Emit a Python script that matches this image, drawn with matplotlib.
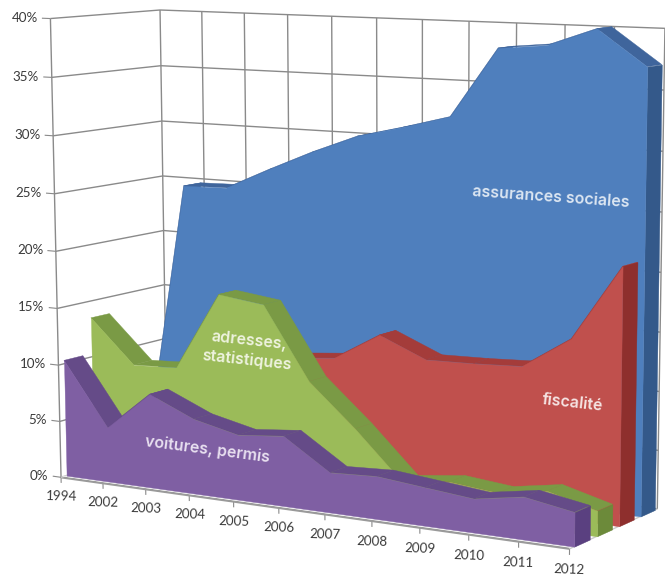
import math
import numpy as np
import matplotlib
matplotlib.use("Agg")
import matplotlib.pyplot as plt
from mpl_toolkits.mplot3d.art3d import Poly3DCollection

# Share of requests per year and per purpose (percent)
years = ["1994", "2002", "2003", "2004", "2005", "2006",
         "2007", "2008", "2009", "2010", "2011", "2012"]
voitures = [10.3, 4.8, 8.2, 6.5, 5.6, 6.0, 3.4, 3.6, 3.2, 2.8, 3.5, 2.8]
adresses = [13.5, 9.7, 9.9, 16.7, 16.2, 10.0, 6.4, 2.4, 2.9, 2.5, 3.2, 2.1]
fiscalite = [0, 0, 0, 0, 11.0, 11.4, 13.8, 12.1, 12.2, 12.4, 15.1, 21.4]
assurances = [0, 24.7, 24.8, 26.7, 28.5, 30.1, 31.1, 32.2, 38.1, 38.5, 40.0, 37.1]
percent_ticks = [0, 5, 10, 15, 20, 25, 30, 35, 40]

W, H = 665, 577
fig = plt.figure(figsize=(W / 100, H / 100), dpi=100, facecolor="white")
ax = fig.add_axes([0, 0, 1, 1], projection="3d", proj_type="ortho")
ax.set_axis_off()
ax.patch.set_visible(False)
ax.computed_zorder = False

n = len(years)
xs = np.arange(n, dtype=float)

# Camera calibration: (category, depth, percent) -> image position of the box edges
front_u = [62, 102, 145, 188, 232, 278, 325, 372, 420, 470, 519, 571]
front_v = [476, 483, 489, 496, 502, 508, 515, 522, 528, 534, 542, 549]
back_u = [160, 202, 244, 288, 331, 377, 423, 469, 517, 566, 614]
back_v = [10, 12, 14, 15, 16, 18, 20, 21, 23, 25, 26]
left_front = [(0, 62, 476), (5, 61, 420), (10, 60, 365), (15, 57, 308), (20, 55, 251),
              (25, 54, 194), (30, 53, 136), (35, 51, 78), (40, 50, 20)]
left_back = [(20, 163, 229), (25, 163, 174), (30, 162, 120), (35, 161, 65), (40, 160, 10)]
anchors = [(k, 0, 0, u, v) for k, (u, v) in enumerate(zip(front_u, front_v))]
anchors += [(k, 1, 40, u, v) for k, (u, v) in enumerate(zip(back_u, back_v))]
anchors += [(0, 0, z, u, v) for z, u, v in left_front]
anchors += [(0, 1, z, u, v) for z, u, v in left_back]
anchors += [(11, 1, 0, 655, 507), (0, 1, 0, 168, 450)]

scale = np.array([1 / 11, 1.0, 1 / 40])
rows, rhs = [], []
for X, Y, Z, u, v in anchors:
    a, b, c = np.array([X, Y, Z]) * scale
    rows.append([a, b, c, 1, 0, 0, 0, 0, -u * a, -u * b, -u * c]); rhs.append(u)
    rows.append([0, 0, 0, 0, a, b, c, 1, -v * a, -v * b, -v * c]); rhs.append(v)
p = np.linalg.lstsq(np.array(rows), np.array(rhs, float), rcond=None)[0]
camera = np.append(p, 1).reshape(3, 4)
camera[:, :3] = camera[:, :3] * scale


def pixel_camera():
    flip = np.array([[1, 0, 0], [0, -1, H], [0, 0, 1.0]])
    to_view = ax.transData.inverted().get_matrix()
    A = to_view @ flip @ camera
    return np.vstack([A[0], A[1], [0, 1e-3, 0, 0], A[2]])


ax.get_proj = pixel_camera


def project(x, y, z):
    h = camera @ np.array([x, y, z, 1.0])
    return h[0] / h[2], h[1] / h[2]


def label(x, y, z, text, along=(1, 0, 0), **kwargs):
    """Place a text at a point of the chart box, tilted along a box direction."""
    u, v = project(x, y, z)
    u2, v2 = project(x + along[0], y + along[1], z + along[2])
    angle = math.degrees(math.atan2(v - v2, u2 - u))
    fig.text(u / W, 1 - v / H, text, rotation=angle, rotation_mode="anchor", **kwargs)


GRID = "#8a8a8a"


def line3(x, y, z, color=GRID, lw=1.0, zorder=2):
    ax.plot(x, y, z, color=color, lw=lw, zorder=zorder, clip_on=False, solid_capstyle="butt")


# Walls: left side, back, and floor outline
for z in percent_ticks:
    line3([0, 0], [0, 1], [z, z])
    line3([0, 11], [1, 1], [z, z])
    line3([-0.2, 0], [0, 0], [z, z], lw=0.8)
for k in range(n):
    line3([k, k], [1, 1], [0, 40])
    line3([k, k], [0, 0], [-0.5, 0], lw=0.8)
line3([0, 0], [0, 0], [0, 40])
line3([0, 11], [0, 0], [0, 0], color="#9a9a9a", lw=1.6, zorder=2)
line3([0, 11], [0.012, 0.012], [0.1, 0.1], color="#f4f4f4", lw=0.8, zorder=3)
line3([11, 11], [0, 1], [0, 0], color="#c9c9c9", lw=1.0)
line3([0, 0], [0, 1], [0, 0], color="#c9c9c9", lw=1.0)


def slab(values, y0, y1, front, strip, side, zorder):
    vals = np.asarray(values, float)
    strips = [[(xs[i], y0, vals[i]), (xs[i + 1], y0, vals[i + 1]),
               (xs[i + 1], y1, vals[i + 1]), (xs[i], y1, vals[i])] for i in range(n - 1)]
    face = [(xs[0], y0, 0)] + list(zip(xs, [y0] * n, vals)) + [(xs[-1], y0, 0)]
    end = [(xs[-1], y0, 0), (xs[-1], y1, 0), (xs[-1], y1, vals[-1]), (xs[-1], y0, vals[-1])]
    for polys, colour, dz in ((strips, strip, 0), ([end], side, 1), ([face], front, 2)):
        pc = Poly3DCollection(polys, facecolors=colour, edgecolors=colour, linewidths=0.3,
                              zorder=zorder + dz)
        pc.set_clip_on(False)
        ax.add_collection3d(pc, autolim=False)


slab(assurances, 0.80, 0.97, "#4f7fbd", "#3f659c", "#34598a", 10)
slab(fiscalite, 0.55, 0.72, "#c0504d", "#a43c3a", "#8e2f2d", 20)
slab(adresses, 0.30, 0.47, "#9bbb59", "#7a9a45", "#6c8a3a", 30)
slab(voitures, 0.05, 0.22, "#7f5fa3", "#654b88", "#5a4080", 40)

# Axis labels
tick_font = dict(family="Lato", fontsize=9.6, color="#3a3a3a")
for z in percent_ticks:
    label(-0.3, 0, z, f"{z}%", along=(0, 0, 0), ha="right", va="center", **tick_font)
for k, name in enumerate(years):
    label(k, 0, -1.7, name, along=(1, 0, 0.45), ha="center", va="center", **tick_font)

# Series names written on their own faces
name_font = dict(family="Inter", fontweight="semibold", fontsize=11.5, ha="center", va="center")
label(9.1, 0.8, 26.0, "assurances sociales", color="#dce6f2", **name_font)
label(10.05, 0.55, 9.8, "fiscalité", color="#f6e4e3", **name_font)
label(3.65, 0.30, 12.1, "adresses,\nstatistiques", color="#eef3df", linespacing=1.35, **name_font)
label(3.3, 0.05, 4.0, "voitures, permis", color="#e8e0f0", **name_font)

fig.savefig("out.png", dpi=100, facecolor="white")
